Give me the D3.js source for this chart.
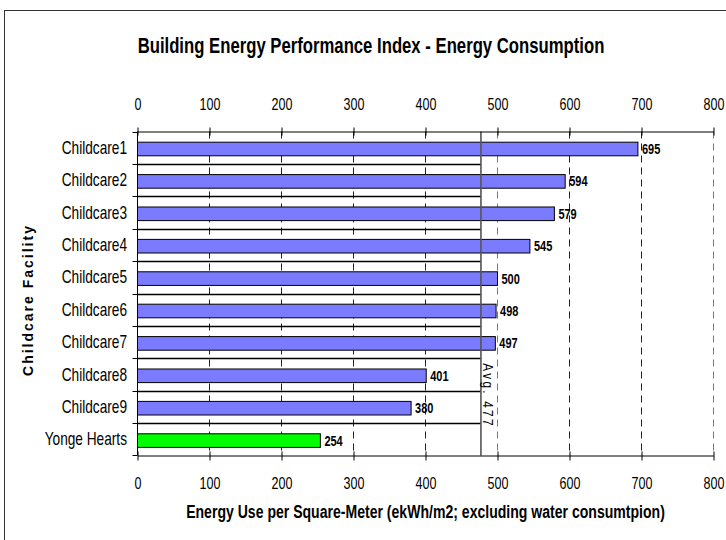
<!DOCTYPE html>
<html>
<head>
<meta charset="utf-8">
<script src="https://cdn.jsdelivr.net/npm/d3@7"></script>
<style>
  body { margin: 0; background: #fff; }
  svg { display: block; font-family: 'Liberation Sans', Arial, sans-serif; }
</style>
</head>
<body>
<svg></svg>
<script>
// Chart data
var categories = ['Childcare1', 'Childcare2', 'Childcare3', 'Childcare4', 'Childcare5',
  'Childcare6', 'Childcare7', 'Childcare8', 'Childcare9', 'Yonge Hearts'];
var energyUse = [695, 594, 579, 545, 500, 498, 497, 401, 380, 254];
var averageUse = 477;
var xTicks = [0, 100, 200, 300, 400, 500, 600, 700, 800];

// Dimensions
var width = 726;
var height = 540;
var plotLeft = 137.5;
var plotRight = 713.5;
var plotTop = 131.5;
var plotBottom = 455.5;
var narrow = 0.76; // no Arial Narrow here, so squeeze Liberation Sans

var rows = categories.map(function (c, i) {
  return { name: c, value: energyUse[i], own: c === 'Yonge Hearts' };
});

// squeeze text horizontally around its own x
function squeeze(sel) {
  sel.attr('transform', function () {
    var px = +this.getAttribute('x') || 0;
    return 'translate(' + px + ',0) scale(' + narrow + ',1) translate(' + (-px) + ',0)';
  });
}

var svg = d3.select('svg')
  .attr('width', width)
  .attr('height', height);

// Outer frame (runs off the picture at right and bottom)
svg.append('rect')
  .attr('x', 4.5)
  .attr('y', 10.5)
  .attr('width', 760)
  .attr('height', 600)
  .attr('fill', '#fff')
  .attr('stroke', '#333')
  .attr('stroke-width', 1);

var x = d3.scaleLinear()
  .domain([0, 800])
  .range([plotLeft, plotRight]);

var y = d3.scaleBand()
  .domain(categories)
  .range([plotTop, plotBottom]);

var bw = y.bandwidth();

// Title
svg.append('text')
  .attr('x', 371)
  .attr('y', 45)
  .attr('text-anchor', 'middle')
  .attr('dominant-baseline', 'central')
  .attr('font-size', 22)
  .attr('font-weight', 'bold')
  .attr('fill', '#000')
  .text('Building Energy Performance Index - Energy Consumption')
  .call(squeeze);

// Dashed gridlines
svg.append('g')
  .selectAll('line')
  .data(xTicks.slice(1))
  .enter()
  .append('line')
    .attr('x1', function (d) { return x(d); })
    .attr('x2', function (d) { return x(d); })
    .attr('y1', plotTop)
    .attr('y2', plotBottom)
    .attr('stroke', function (d) { return (d === 800 || d === 500) ? '#777' : '#222'; })
    .attr('stroke-dasharray', '7,5');

// Average series: band boundaries from 0 up to the average
svg.append('g')
  .selectAll('line')
  .data(categories.slice(1))
  .enter()
  .append('line')
    .attr('x1', x(0))
    .attr('x2', x(averageUse))
    .attr('y1', function (d) { return Math.round(y(d)) + 0.5; })
    .attr('y2', function (d) { return Math.round(y(d)) + 0.5; })
    .attr('stroke', '#000')
    .attr('stroke-width', 1.3);

// Bars
svg.append('g')
  .selectAll('rect')
  .data(rows)
  .enter()
  .append('rect')
    .attr('x', x(0))
    .attr('y', function (d) { return y(d.name) + bw * 0.33; })
    .attr('width', function (d) { return x(d.value) - x(0); })
    .attr('height', bw * 0.42)
    .attr('fill', function (d) { return d.own ? '#00ff00' : '#7b7bff'; })
    .attr('stroke', '#000')
    .attr('stroke-width', 1);

// Value labels
svg.append('g')
  .selectAll('text')
  .data(rows)
  .enter()
  .append('text')
    .attr('x', function (d) { return x(d.value) + 4; })
    .attr('y', function (d) { return y(d.name) + bw * 0.54; })
    .attr('dominant-baseline', 'central')
    .attr('font-size', 14.5)
    .attr('font-weight', 'bold')
    .text(function (d) { return d.value; })
    .call(squeeze);

// Average line + label
svg.append('line')
  .attr('x1', x(averageUse))
  .attr('x2', x(averageUse))
  .attr('y1', plotTop)
  .attr('y2', plotBottom)
  .attr('stroke', '#555')
  .attr('stroke-width', 1.6);

svg.append('text')
  .attr('transform', 'translate(' + (x(averageUse) + 2) + ',' + (y('Childcare8') + 5) + ')rotate(90)scale(' + narrow + ',1)')
  .attr('font-size', 15.5)
  .attr('letter-spacing', 3)
  .attr('fill', '#000')
  .text('Avg. ' + averageUse);

// Top and bottom axes
var topAxis = d3.axisTop(x).tickValues(xTicks).tickSizeInner(4).tickSizeOuter(0).tickPadding(18);
var bottomAxis = d3.axisBottom(x).tickValues(xTicks).tickSizeInner(5).tickSizeOuter(0).tickPadding(17);

function styleAxis(g, dir) {
  g.attr('font-family', null);
  g.select('.domain').attr('stroke', '#000');
  g.selectAll('.tick line').attr('stroke', '#000')
    .attr('y1', -dir * 4);
  g.selectAll('.tick text')
    .attr('font-size', 16.5)
    .attr('fill', '#000')
    .attr('transform', 'scale(' + narrow + ',1)');
}

svg.append('g')
  .attr('transform', 'translate(0,' + plotTop + ')')
  .call(topAxis)
  .call(styleAxis, -1);

svg.append('g')
  .attr('transform', 'translate(0,' + plotBottom + ')')
  .call(bottomAxis)
  .call(styleAxis, 1);

// Category axis: ticks at band boundaries
var yAxisG = svg.append('g');
yAxisG.append('line')
  .attr('x1', plotLeft).attr('x2', plotLeft)
  .attr('y1', plotTop).attr('y2', plotBottom)
  .attr('stroke', '#000');

yAxisG.selectAll('.bound')
  .data(categories.concat(['end']))
  .enter()
  .append('line')
    .attr('x1', plotLeft - 5)
    .attr('x2', plotLeft)
    .attr('y1', function (d) { return d === 'end' ? plotBottom : Math.round(y(d)) + 0.5; })
    .attr('y2', function (d) { return d === 'end' ? plotBottom : Math.round(y(d)) + 0.5; })
    .attr('stroke', '#000');

yAxisG.selectAll('text')
  .data(categories)
  .enter()
  .append('text')
    .attr('x', 127)
    .attr('y', function (d) { return y(d) + bw / 2; })
    .attr('text-anchor', 'end')
    .attr('dominant-baseline', 'central')
    .attr('font-size', 18)
    .text(function (d) { return d; })
    .call(squeeze);

// Axis titles
svg.append('text')
  .attr('transform', 'translate(28,300)rotate(-90)')
  .attr('text-anchor', 'middle')
  .attr('dominant-baseline', 'central')
  .attr('font-size', 14)
  .attr('font-weight', 'bold')
  .attr('letter-spacing', 2)
  .text('Childcare Facility');

svg.append('text')
  .attr('x', (plotLeft + plotRight) / 2)
  .attr('y', 511)
  .attr('text-anchor', 'middle')
  .attr('dominant-baseline', 'central')
  .attr('font-size', 18.5)
  .attr('font-weight', 'bold')
  .text('Energy Use per Square-Meter (ekWh/m2; excluding water consumtpion)')
  .call(squeeze);
</script>
</body>
</html>
